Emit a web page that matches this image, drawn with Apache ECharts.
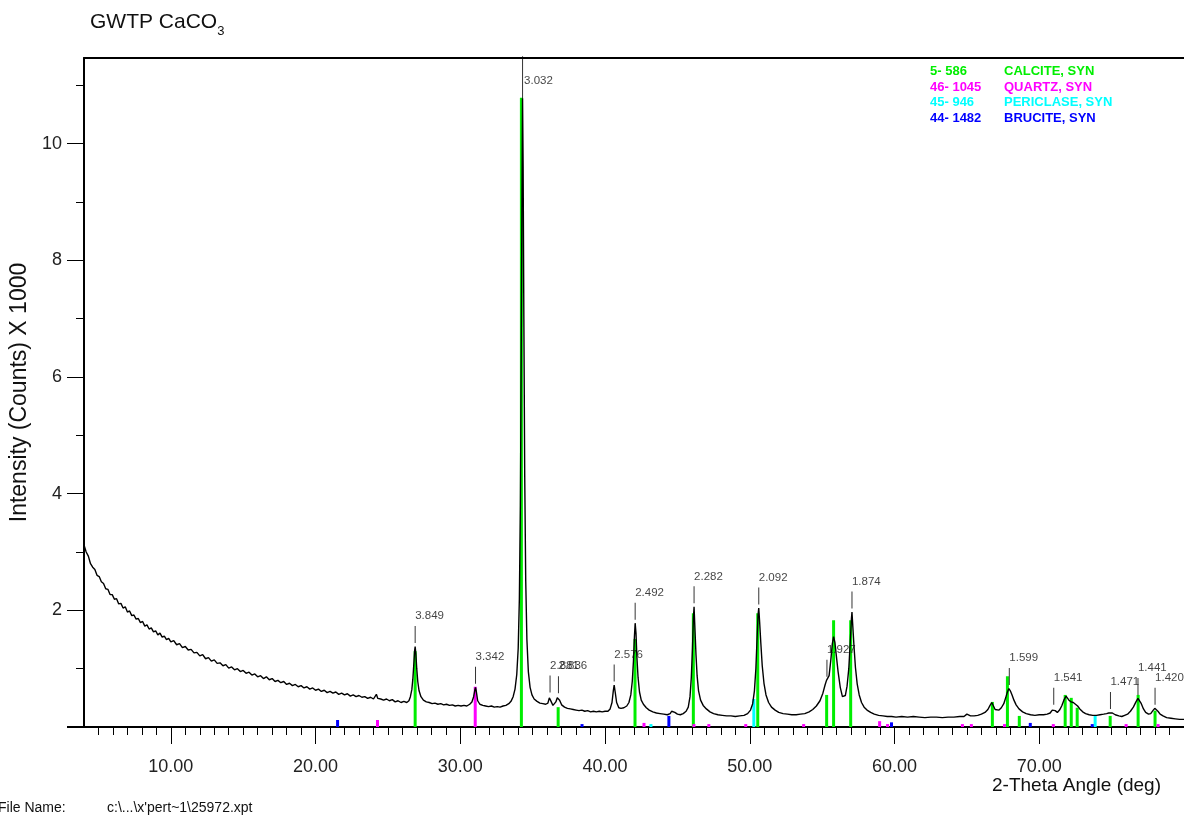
<!DOCTYPE html>
<html>
<head>
<meta charset="utf-8">
<title>GWTP CaCO3</title>
<script src="https://cdn.jsdelivr.net/npm/echarts@6.0.0/dist/echarts.min.js"></script>
<style>
  html, body { margin: 0; padding: 0; background: #fff; }
  #main { width: 1184px; height: 816px; }
</style>
</head>
<body>
<div id="main"></div>
<script>
// measured scan: [2-theta (deg), counts x 1000]
const scanPoints = [
  [4.00,3.12],[4.15,3.00],[4.30,2.93],[4.45,2.80],[4.60,2.74],[4.75,2.70],[4.90,2.60],[5.05,2.58],[5.20,2.49],[5.35,2.46],
  [5.50,2.37],[5.65,2.36],[5.80,2.27],[5.95,2.27],[6.10,2.19],[6.25,2.20],[6.40,2.11],[6.55,2.12],[6.70,2.04],[6.85,2.06],
  [7.00,1.97],[7.15,1.99],[7.30,1.91],[7.45,1.92],[7.60,1.85],[7.75,1.86],[7.90,1.79],[8.05,1.81],[8.20,1.73],[8.35,1.75],
  [8.50,1.68],[8.65,1.70],[8.80,1.63],[8.95,1.65],[9.10,1.58],[9.25,1.61],[9.40,1.54],[9.55,1.56],[9.70,1.50],[9.85,1.52],
  [10.0,1.46],[10.2,1.48],[10.4,1.41],[10.6,1.43],[10.8,1.36],[11.0,1.38],[11.2,1.32],[11.4,1.33],[11.6,1.27],[11.8,1.28],
  [12.0,1.22],[12.2,1.24],[12.4,1.17],[12.6,1.19],[12.8,1.13],[13.0,1.15],[13.2,1.09],[13.4,1.10],[13.6,1.05],[13.8,1.07],
  [14.0,1.01],[14.2,1.03],[14.4,0.98],[14.6,1.00],[14.8,0.95],[15.0,0.97],[15.2,0.92],[15.4,0.94],[15.6,0.89],[15.8,0.91],
  [16.0,0.86],[16.2,0.88],[16.4,0.83],[16.6,0.86],[16.8,0.81],[17.0,0.83],[17.2,0.78],[17.4,0.80],[17.6,0.76],[17.8,0.78],
  [18.0,0.73],[18.2,0.75],[18.4,0.71],[18.6,0.73],[18.8,0.69],[19.0,0.71],[19.2,0.67],[19.4,0.69],[19.6,0.65],[19.8,0.67],
  [20.0,0.63],[20.2,0.65],[20.4,0.61],[20.6,0.63],[20.8,0.59],[21.0,0.61],[21.2,0.58],[21.4,0.60],[21.6,0.56],[21.8,0.58],
  [22.0,0.55],[22.2,0.57],[22.4,0.53],[22.6,0.55],[22.8,0.52],[23.0,0.54],[23.2,0.51],[23.4,0.52],[23.6,0.49],[23.8,0.51],
  [24.0,0.48],[24.2,0.56],[24.3,0.49],[24.5,0.48],[24.7,0.46],[24.9,0.48],[25.1,0.45],[25.3,0.47],[25.5,0.43],[25.7,0.45],
  [25.9,0.42],[26.1,0.44],[26.3,0.42],[26.45,0.45],[26.55,0.52],[26.65,0.64],[26.72,0.82],[26.78,1.05],[26.84,1.30],[26.88,1.38],
  [26.93,1.25],[26.99,1.00],[27.06,0.78],[27.15,0.62],[27.28,0.52],[27.45,0.46],[27.65,0.43],[27.85,0.42],[28.05,0.40],[28.25,0.41],
  [28.45,0.39],[28.65,0.40],[28.85,0.38],[29.05,0.39],[29.25,0.37],[29.45,0.38],[29.65,0.36],[29.85,0.37],[30.05,0.36],[30.25,0.37],
  [30.45,0.36],[30.65,0.39],[30.80,0.43],[30.92,0.52],[31.00,0.63],[31.05,0.68],[31.10,0.62],[31.20,0.45],[31.35,0.39],[31.55,0.37],
  [31.75,0.36],[31.95,0.35],[32.15,0.36],[32.35,0.34],[32.55,0.35],[32.75,0.34],[32.95,0.36],[33.15,0.37],[33.35,0.40],[33.50,0.44],
  [33.65,0.52],[33.78,0.65],[33.90,0.90],[34.00,1.35],[34.08,2.20],[34.15,3.80],[34.21,6.50],[34.26,9.20],[34.30,10.78],[34.34,9.60],
  [34.39,7.00],[34.45,4.30],[34.52,2.50],[34.60,1.50],[34.70,0.95],[34.82,0.68],[34.95,0.55],[35.10,0.48],[35.30,0.44],[35.50,0.41],
  [35.70,0.40],[35.90,0.39],[36.05,0.41],[36.15,0.50],[36.20,0.53],[36.27,0.44],[36.40,0.37],[36.50,0.38],[36.60,0.43],[36.70,0.50],
  [36.78,0.52],[36.86,0.46],[37.00,0.38],[37.20,0.34],[37.40,0.32],[37.60,0.31],[37.80,0.30],[38.00,0.29],[38.20,0.28],[38.40,0.29],
  [38.60,0.27],[38.80,0.28],[39.00,0.26],[39.20,0.27],[39.40,0.26],[39.60,0.27],[39.80,0.26],[40.00,0.27],[40.20,0.27],[40.35,0.31],
  [40.48,0.42],[40.57,0.62],[40.63,0.72],[40.70,0.60],[40.80,0.42],[40.95,0.33],[41.10,0.32],[41.30,0.33],[41.50,0.36],[41.65,0.42],
  [41.78,0.55],[41.88,0.78],[41.96,1.12],[42.03,1.55],[42.08,1.78],[42.14,1.60],[42.20,1.20],[42.28,0.85],[42.38,0.60],[42.50,0.46],
  [42.65,0.39],[42.85,0.33],[43.05,0.29],[43.30,0.26],[43.55,0.24],[43.80,0.23],[44.05,0.22],[44.30,0.21],[44.50,0.23],[44.60,0.27],
  [44.70,0.29],[44.82,0.25],[45.00,0.22],[45.20,0.21],[45.40,0.23],[45.60,0.27],[45.75,0.34],[45.87,0.52],[45.96,0.85],[46.04,1.35],
  [46.10,1.85],[46.15,2.06],[46.20,1.75],[46.28,1.25],[46.36,0.88],[46.46,0.62],[46.60,0.46],[46.78,0.37],[47.00,0.31],[47.25,0.26],
  [47.50,0.23],[47.80,0.21],[48.10,0.20],[48.40,0.19],[48.70,0.19],[49.00,0.18],[49.30,0.19],[49.60,0.20],[49.85,0.23],[50.05,0.29],
  [50.20,0.40],[50.32,0.62],[50.42,1.00],[50.50,1.50],[50.57,1.92],[50.62,2.04],[50.68,1.80],[50.76,1.45],[50.86,1.05],[50.98,0.75],
  [51.12,0.55],[51.30,0.42],[51.50,0.34],[51.75,0.29],[52.00,0.25],[52.30,0.23],[52.60,0.22],[52.90,0.21],[53.20,0.21],[53.50,0.22],
  [53.80,0.23],[54.10,0.26],[54.35,0.30],[54.60,0.36],[54.85,0.45],[55.05,0.58],[55.20,0.72],[55.30,0.80],[55.38,0.80],[55.48,0.88],
  [55.60,1.15],[55.70,1.42],[55.79,1.55],[55.88,1.45],[55.98,1.22],[56.10,0.95],[56.25,0.68],[56.40,0.52],[56.50,0.49],[56.60,0.54],
  [56.72,0.70],[56.84,1.00],[56.94,1.45],[57.02,1.85],[57.06,1.97],[57.12,1.72],[57.20,1.38],[57.30,1.02],[57.42,0.74],[57.56,0.55],
  [57.72,0.42],[57.90,0.34],[58.10,0.29],[58.35,0.25],[58.60,0.22],[58.90,0.20],[59.20,0.19],[59.50,0.18],[59.80,0.18],[60.10,0.17],
  [60.50,0.18],[60.90,0.17],[61.30,0.18],[61.70,0.17],[62.10,0.16],[62.50,0.17],[62.90,0.17],[63.30,0.16],[63.70,0.17],[64.10,0.17],
  [64.50,0.18],[64.80,0.18],[65.00,0.22],[65.10,0.23],[65.25,0.19],[65.50,0.19],[65.75,0.20],[66.00,0.22],[66.25,0.25],[66.45,0.30],
  [66.60,0.37],[66.72,0.42],[66.82,0.40],[66.95,0.30],[67.08,0.27],[67.22,0.29],[67.38,0.33],[67.55,0.40],[67.68,0.50],[67.80,0.60],
  [67.90,0.66],[68.00,0.62],[68.12,0.55],[68.25,0.46],[68.40,0.38],[68.60,0.31],[68.85,0.26],[69.10,0.23],[69.40,0.21],[69.70,0.20],
  [70.00,0.21],[70.30,0.21],[70.55,0.22],[70.75,0.24],[70.90,0.29],[71.00,0.32],[71.10,0.28],[71.25,0.25],[71.40,0.29],[71.55,0.36],
  [71.70,0.46],[71.85,0.53],[71.95,0.50],[72.05,0.46],[72.20,0.43],[72.35,0.42],[72.50,0.39],[72.65,0.36],[72.80,0.31],[73.00,0.26],
  [73.20,0.23],[73.45,0.21],[73.70,0.20],[73.95,0.20],[74.20,0.21],[74.45,0.22],[74.65,0.23],[74.80,0.24],[74.92,0.25],[75.05,0.24],
  [75.25,0.21],[75.50,0.19],[75.70,0.18],[75.90,0.20],[76.10,0.22],[76.30,0.27],[76.50,0.34],[76.68,0.43],[76.82,0.49],[76.92,0.48],
  [77.05,0.40],[77.20,0.31],[77.35,0.25],[77.55,0.22],[77.70,0.23],[77.85,0.28],[77.98,0.32],[78.08,0.31],[78.20,0.27],[78.35,0.22],
  [78.55,0.19],[78.80,0.16],[79.10,0.15],[79.40,0.14],[79.70,0.13],[80.00,0.13]
];

// reference patterns (stick positions / relative heights)
const calcite = [[26.88,1.30],[34.22,10.79],[36.76,0.34],[42.07,1.51],[46.10,1.95],[50.55,1.95],[55.31,0.55],[55.79,1.83],[56.97,1.83],
  [66.76,0.43],[67.80,0.87],[68.62,0.19],[71.79,0.55],[72.21,0.50],[72.62,0.33],[74.90,0.19],[76.83,0.55],[78.00,0.28]];
const quartz = [[24.28,0.12],[31.03,0.69],[42.69,0.07],[46.14,0.05],[47.17,0.05],[49.72,0.05],[53.72,0.05],[58.97,0.10],[59.52,0.05],
  [64.69,0.05],[65.31,0.05],[67.60,0.05],[70.97,0.05],[76.00,0.05],[78.21,0.05]];
const periclase = [[43.17,0.05],[50.28,0.48],[73.86,0.19]];
const brucite = [[21.52,0.12],[38.41,0.05],[44.41,0.19],[59.79,0.08],[69.38,0.07],[73.66,0.05]];

const cardCodes = ['5- 586', '46- 1045', '45- 946', '44- 1482'];
const phaseNames = ['CALCITE, SYN', 'QUARTZ, SYN', 'PERICLASE, SYN', 'BRUCITE, SYN'];
const phaseColors = ['#00ee00', '#ff00ff', '#00ffff', '#0000ff'];

// peak d-spacing labels
const peakLabels = ['3.849','3.342','3.032','2.881','2.836','2.576','2.492','2.282','2.092','1.927','1.874','1.599','1.541','1.471','1.441','1.420'];
const peakAngles = [26.88, 31.05, 34.30, 36.20, 36.78, 40.63, 42.08, 46.15, 50.62, 55.33, 57.06, 67.93, 71.00, 74.92, 76.82, 78.00];
const peakHeights = [1.38, 0.68, 10.78, 0.53, 0.52, 0.72, 1.78, 2.06, 2.04, 0.80, 1.97, 0.66, 0.32, 0.25, 0.49, 0.32];

const xTickLabels = [10, 20, 30, 40, 50, 60, 70];
const yTickLabels = [2, 4, 6, 8, 10];
const yMinorTicks = [1, 3, 5, 7, 9, 11];
const xMinorTicks = [];
for (let i = 5; i < 80; i++) xMinorTicks.push(i);

const FONT = 'Liberation Sans, Arial, sans-serif';
const X_MIN = 4, X_MAX = 80, Y_MAX = 11.47;

const chart = echarts.init(document.getElementById('main'));

const peakData = [];
const mainPeakData = [];
peakLabels.forEach((d, i) => {
  const item = [peakAngles[i], peakHeights[i], d];
  if (peakHeights[i] > 10) mainPeakData.push(item);
  else peakData.push(item);
});

const stickSets = [calcite, quartz, periclase, brucite];
const stickSeries = stickSets.map((set, i) => ({
  name: cardCodes[i],
  type: 'bar',
  xAxisIndex: 0,
  yAxisIndex: 0,
  data: set,
  barWidth: 3,
  barGap: '-100%',
  itemStyle: { color: phaseColors[i] },
  z: 2,
  silent: true
}));

chart.setOption({
  animation: false,
  backgroundColor: '#fff',
  title: {
    text: '{a|GWTP CaCO}{b|3}',
    left: 85,
    top: 7,
    textStyle: {
      fontFamily: FONT,
      fontWeight: 'normal',
      rich: {
        a: { fontSize: 21, color: '#111', fontFamily: FONT, fontWeight: 'normal', padding: [0, 0, 5, 0], verticalAlign: 'bottom' },
        b: { fontSize: 13, color: '#111', fontFamily: FONT, fontWeight: 'normal', verticalAlign: 'bottom' }
      }
    }
  },
  legend: {
    left: 920,
    top: 60,
    orient: 'vertical',
    icon: 'none',
    itemWidth: 0,
    itemHeight: 13,
    itemGap: 2.6,
    selectedMode: false,
    data: cardCodes.map((c, i) => ({ name: c, textStyle: { color: phaseColors[i] } })),
    formatter: name => '{c|' + name + '}{n|' + phaseNames[cardCodes.indexOf(name)] + '}',
    textStyle: {
      fontFamily: FONT,
      fontSize: 13,
      fontWeight: 'bold',
      rich: {
        c: { width: 74, fontSize: 13, fontWeight: 'bold', fontFamily: FONT },
        n: { fontSize: 13, fontWeight: 'bold', fontFamily: FONT }
      }
    }
  },
  grid: { left: 84, right: 0, top: 58, bottom: 89, containLabel: false, outerBoundsMode: 'none' },
  xAxis: [
    {
      type: 'value', min: X_MIN, max: X_MAX, position: 'bottom',
      splitLine: { show: false },
      axisLine: { show: true, lineStyle: { color: '#000', width: 2 } },
      axisTick: { show: true, customValues: xTickLabels, length: 17, inside: false, lineStyle: { color: '#000', width: 1 } },
      axisLabel: {
        customValues: xTickLabels, margin: 31, fontSize: 18, color: '#222', fontFamily: FONT,
        formatter: v => v.toFixed(2)
      }
    },
    {
      type: 'value', min: X_MIN, max: X_MAX, position: 'bottom',
      splitLine: { show: false },
      axisLine: { show: false },
      axisTick: { show: true, customValues: xMinorTicks, length: 8, lineStyle: { color: '#000', width: 1 } },
      axisLabel: { show: false }
    },
    {
      type: 'value', min: X_MIN, max: X_MAX, position: 'top',
      splitLine: { show: false },
      axisLine: { show: true, lineStyle: { color: '#000', width: 2 } },
      axisTick: { show: false },
      axisLabel: { show: false }
    }
  ],
  yAxis: [
    {
      type: 'value', min: 0, max: Y_MAX, position: 'left',
      name: 'Intensity (Counts) X 1000',
      nameLocation: 'middle',
      nameGap: 49,
      nameTextStyle: { fontSize: 23, color: '#111', fontFamily: FONT },
      splitLine: { show: false },
      axisLine: { show: true, lineStyle: { color: '#000', width: 2 } },
      axisTick: { show: true, customValues: yTickLabels, length: 17, lineStyle: { color: '#000', width: 1 } },
      axisLabel: { customValues: yTickLabels, margin: 22, fontSize: 18, color: '#222', fontFamily: FONT }
    },
    {
      type: 'value', min: 0, max: Y_MAX, position: 'left',
      splitLine: { show: false },
      axisLine: { show: false },
      axisTick: { show: true, customValues: yMinorTicks, length: 8, lineStyle: { color: '#000', width: 1 } },
      axisLabel: { show: false }
    }
  ],
  graphic: [
    { type: 'line', shape: { x1: 67, y1: 727, x2: 85, y2: 727 }, style: { stroke: '#000', lineWidth: 2 } },
    { type: 'text', left: 992, top: 776, style: { text: '2-Theta Angle (deg)', fill: '#111', font: '19px ' + FONT } },
    { type: 'text', left: -2, top: 801, style: { text: 'File Name:', fill: '#111', font: '14px ' + FONT } },
    { type: 'text', left: 107, top: 801, style: { text: "c:\\...\\x'pert~1\\25972.xpt", fill: '#111', font: '14px ' + FONT } }
  ],
  series: [
    ...stickSeries,
    {
      name: 'scan',
      type: 'line',
      data: scanPoints,
      showSymbol: false,
      symbol: 'none',
      lineStyle: { color: '#000', width: 1.4 },
      z: 3,
      silent: true
    },
    {
      name: 'peaks',
      type: 'scatter',
      data: peakData,
      symbol: 'rect',
      symbolSize: [1, 17],
      symbolOffset: [0, -12],
      itemStyle: { color: '#000' },
      label: {
        show: true, position: 'top', distance: 4, align: 'left',
        fontSize: 11.5, color: '#111', fontFamily: FONT,
        formatter: p => p.data[2]
      },
      z: 4,
      silent: true
    },
    {
      name: 'mainPeak',
      type: 'scatter',
      data: mainPeakData,
      symbol: 'rect',
      symbolSize: [1, 42],
      symbolOffset: [0, -21],
      itemStyle: { color: '#000' },
      label: {
        show: true, position: 'right', distance: 1, offset: [0, 4],
        fontSize: 11.5, color: '#111', fontFamily: FONT,
        formatter: p => p.data[2]
      },
      z: 4,
      silent: true
    }
  ]
});
</script>
</body>
</html>
